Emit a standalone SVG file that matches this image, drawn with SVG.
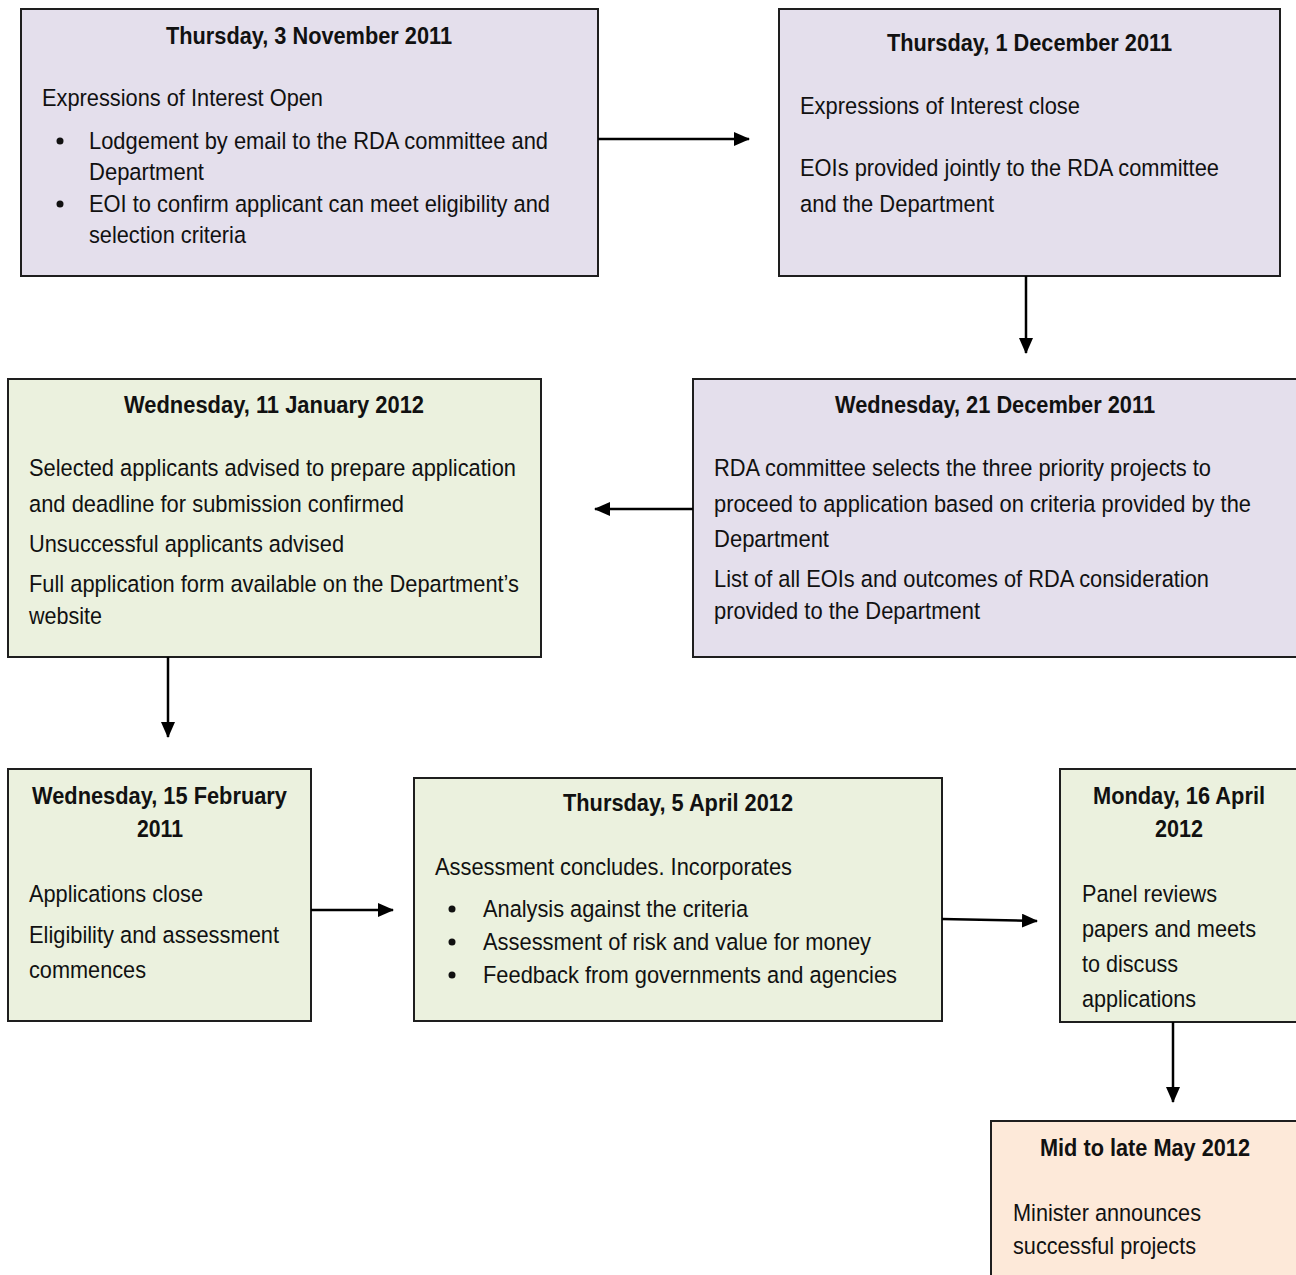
<svg xmlns="http://www.w3.org/2000/svg" width="1296" height="1275" viewBox="0 0 1296 1275">
<defs>
<marker id="ah" markerUnits="userSpaceOnUse" markerWidth="16" markerHeight="14" refX="15" refY="7" orient="auto">
<path d="M0,0 L16,7 L0,14 Z" fill="#000"/>
</marker>
<style>
.box{stroke:#1e1e1e;stroke-width:2}
.lav{fill:#e4dfec}.grn{fill:#ebf1de}.pch{fill:#fde9d9}
text{font-family:"Liberation Sans",Arial,sans-serif;fill:#111}
.t{font-size:23px;font-weight:bold}
.b{font-size:24.5px}
.dot{fill:#111}
.con{stroke:#000;stroke-width:2.5;fill:none;marker-end:url(#ah)}
</style>
</defs>
<rect width="1296" height="1275" fill="#fff"/>

<g id="node1">
<rect class="box lav" x="21" y="9" width="577" height="267"/>
<text class="t" x="166" y="44" textLength="286" lengthAdjust="spacingAndGlyphs">Thursday, 3 November 2011</text>
<text class="b" x="42" y="106" textLength="281" lengthAdjust="spacingAndGlyphs">Expressions of Interest Open</text>
<circle class="dot" cx="60" cy="141" r="3.5"/>
<text class="b" x="89" y="149" textLength="459" lengthAdjust="spacingAndGlyphs">Lodgement by email to the RDA committee and</text>
<text class="b" x="89" y="180" textLength="115" lengthAdjust="spacingAndGlyphs">Department</text>
<circle class="dot" cx="60" cy="204" r="3.5"/>
<text class="b" x="89" y="212" textLength="461" lengthAdjust="spacingAndGlyphs">EOI to confirm applicant can meet eligibility and</text>
<text class="b" x="89" y="243" textLength="157" lengthAdjust="spacingAndGlyphs">selection criteria</text>
</g>

<g id="node2">
<rect class="box lav" x="779" y="9" width="501" height="267"/>
<text class="t" x="887" y="51" textLength="285" lengthAdjust="spacingAndGlyphs">Thursday, 1 December 2011</text>
<text class="b" x="800" y="114" textLength="280" lengthAdjust="spacingAndGlyphs">Expressions of Interest close</text>
<text class="b" x="800" y="176" textLength="419" lengthAdjust="spacingAndGlyphs">EOIs provided jointly to the RDA committee</text>
<text class="b" x="800" y="212" textLength="194" lengthAdjust="spacingAndGlyphs">and the Department</text>
</g>

<g id="node3">
<rect class="box lav" x="693" y="379" width="610" height="278"/>
<text class="t" x="835" y="413" textLength="320" lengthAdjust="spacingAndGlyphs">Wednesday, 21 December 2011</text>
<text class="b" x="714" y="476" textLength="497" lengthAdjust="spacingAndGlyphs">RDA committee selects the three priority projects to</text>
<text class="b" x="714" y="512" textLength="537" lengthAdjust="spacingAndGlyphs">proceed to application based on criteria provided by the</text>
<text class="b" x="714" y="547" textLength="115" lengthAdjust="spacingAndGlyphs">Department</text>
<text class="b" x="714" y="587" textLength="495" lengthAdjust="spacingAndGlyphs">List of all EOIs and outcomes of RDA consideration</text>
<text class="b" x="714" y="619" textLength="266" lengthAdjust="spacingAndGlyphs">provided to the Department</text>
</g>

<g id="node4">
<rect class="box grn" x="8" y="379" width="533" height="278"/>
<text class="t" x="124" y="413" textLength="300" lengthAdjust="spacingAndGlyphs">Wednesday, 11 January 2012</text>
<text class="b" x="29" y="476" textLength="487" lengthAdjust="spacingAndGlyphs">Selected applicants advised to prepare application</text>
<text class="b" x="29" y="512" textLength="375" lengthAdjust="spacingAndGlyphs">and deadline for submission confirmed</text>
<text class="b" x="29" y="552" textLength="315" lengthAdjust="spacingAndGlyphs">Unsuccessful applicants advised</text>
<text class="b" x="29" y="592" textLength="490" lengthAdjust="spacingAndGlyphs">Full application form available on the Department’s</text>
<text class="b" x="29" y="624" textLength="73" lengthAdjust="spacingAndGlyphs">website</text>
</g>

<g id="node5">
<rect class="box grn" x="8" y="769" width="303" height="252"/>
<text class="t" x="32" y="804" textLength="255" lengthAdjust="spacingAndGlyphs">Wednesday, 15 February</text>
<text class="t" x="137" y="837" textLength="46" lengthAdjust="spacingAndGlyphs">2011</text>
<text class="b" x="29" y="902" textLength="174" lengthAdjust="spacingAndGlyphs">Applications close</text>
<text class="b" x="29" y="943" textLength="250" lengthAdjust="spacingAndGlyphs">Eligibility and assessment</text>
<text class="b" x="29" y="978" textLength="117" lengthAdjust="spacingAndGlyphs">commences</text>
</g>

<g id="node6">
<rect class="box grn" x="414" y="778" width="528" height="243"/>
<text class="t" x="563" y="811" textLength="230" lengthAdjust="spacingAndGlyphs">Thursday, 5 April 2012</text>
<text class="b" x="435" y="875" textLength="357" lengthAdjust="spacingAndGlyphs">Assessment concludes. Incorporates</text>
<circle class="dot" cx="452" cy="909" r="3.5"/>
<text class="b" x="483" y="917" textLength="265" lengthAdjust="spacingAndGlyphs">Analysis against the criteria</text>
<circle class="dot" cx="452" cy="942" r="3.5"/>
<text class="b" x="483" y="950" textLength="388" lengthAdjust="spacingAndGlyphs">Assessment of risk and value for money</text>
<circle class="dot" cx="452" cy="975" r="3.5"/>
<text class="b" x="483" y="983" textLength="414" lengthAdjust="spacingAndGlyphs">Feedback from governments and agencies</text>
</g>

<g id="node7">
<rect class="box grn" x="1060" y="769" width="243" height="253"/>
<text class="t" x="1093" y="804" textLength="172" lengthAdjust="spacingAndGlyphs">Monday, 16 April</text>
<text class="t" x="1155" y="837" textLength="48" lengthAdjust="spacingAndGlyphs">2012</text>
<text class="b" x="1082" y="902" textLength="135" lengthAdjust="spacingAndGlyphs">Panel reviews</text>
<text class="b" x="1082" y="937" textLength="174" lengthAdjust="spacingAndGlyphs">papers and meets</text>
<text class="b" x="1082" y="972" textLength="96" lengthAdjust="spacingAndGlyphs">to discuss</text>
<text class="b" x="1082" y="1007" textLength="114" lengthAdjust="spacingAndGlyphs">applications</text>
</g>

<g id="node8">
<rect class="box pch" x="991" y="1121" width="312" height="170"/>
<text class="t" x="1040" y="1156" textLength="210" lengthAdjust="spacingAndGlyphs">Mid to late May 2012</text>
<text class="b" x="1013" y="1221" textLength="188" lengthAdjust="spacingAndGlyphs">Minister announces</text>
<text class="b" x="1013" y="1254" textLength="183" lengthAdjust="spacingAndGlyphs">successful projects</text>
</g>

<g id="connectors">
<line class="con" x1="598" y1="139" x2="749" y2="139"/>
<line class="con" x1="1026" y1="276" x2="1026" y2="353"/>
<line class="con" x1="693" y1="509" x2="595" y2="509"/>
<line class="con" x1="168" y1="657" x2="168" y2="737"/>
<line class="con" x1="311" y1="910" x2="393" y2="910"/>
<line class="con" x1="942" y1="919" x2="1037" y2="921"/>
<line class="con" x1="1173" y1="1022" x2="1173" y2="1102"/>
</g>
</svg>
